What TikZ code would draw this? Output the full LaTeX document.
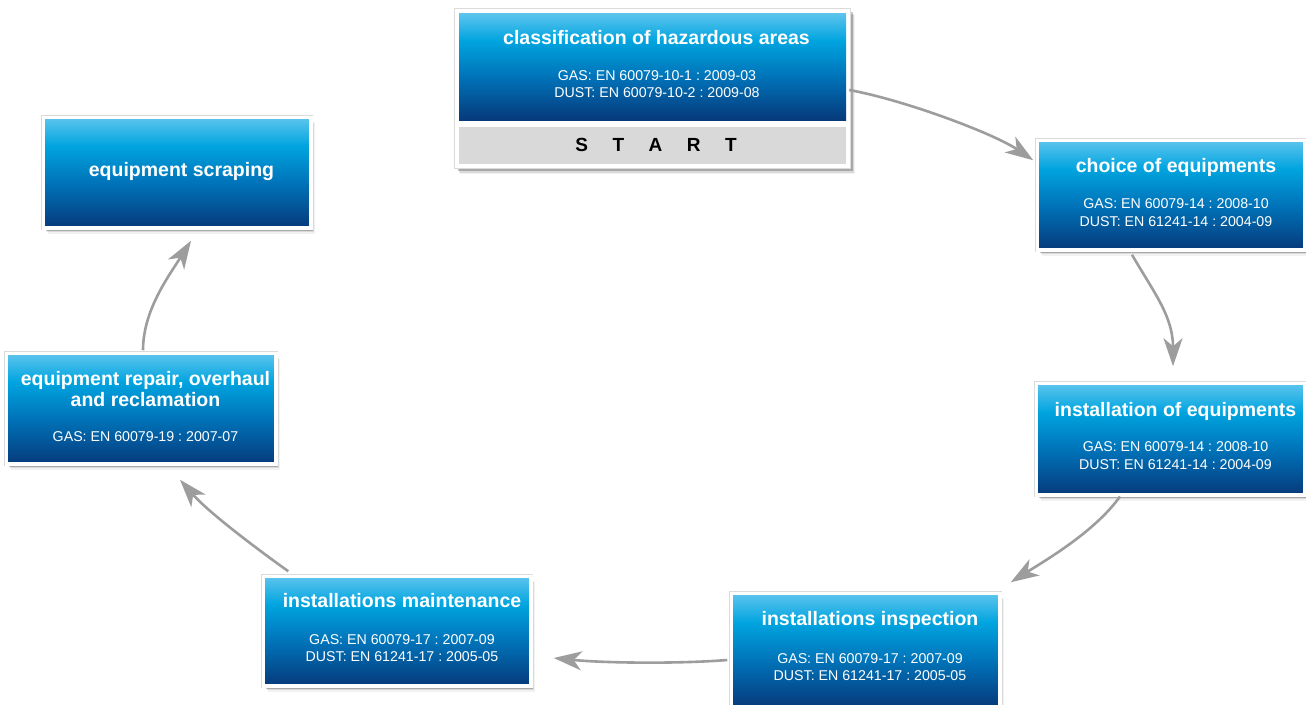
\documentclass[tikz,border=0pt]{standalone}
\usepackage{fontspec}
\setmainfont{Liberation Sans}
\usetikzlibrary{arrows.meta,shadows}
\definecolor{blight}{HTML}{5EC5EE}
\definecolor{bcyan}{HTML}{00A4DF}
\definecolor{bmid}{HTML}{0072B8}
\definecolor{bdark}{HTML}{063A7B}
\definecolor{sgrey}{HTML}{D9D9D9}
\definecolor{agrey}{HTML}{9D9D9D}
\pgfdeclareverticalshading{boxshade}{100bp}{color(0bp)=(bdark); color(25bp)=(bdark); color(45bp)=(bmid); color(62bp)=(bcyan); color(75bp)=(blight); color(100bp)=(blight)}
\frenchspacing
\tikzset{
  softshadow/.style={
    general shadow={fill=black,opacity=.22,shadow xshift=2.5pt,shadow yshift=-3pt},
    general shadow={fill=black,opacity=.10,shadow xshift=3.5pt,shadow yshift=-4.5pt},
    general shadow={fill=black,opacity=.05,shadow xshift=4.5pt,shadow yshift=-6pt}},
  halo/.style={preaction={draw=black!14, line width=#1}},
  bluebox/.style={rectangle, inner sep=0pt, softshadow, halo=5.2pt, shade, shading=boxshade, draw=white, line width=3.5pt},
  plainblue/.style={rectangle, inner sep=0pt, shade, shading=boxshade},
  framebox/.style={rectangle, inner sep=0pt, softshadow, halo=1.6pt, fill=white},
  startbar/.style={rectangle, inner sep=0pt, fill=sgrey},
  txt/.style={text=white, inner sep=0pt, anchor=base},
  ttl/.style={txt, font=\fontsize{19.5}{22}\selectfont\bfseries},
  sub/.style={txt, font=\fontsize{14.2}{17}\selectfont},
  arr/.style={draw=agrey, line width=2.6pt, -{Stealth[length=28pt,width=19pt,inset=8pt]}}
}
\begin{document}
\begin{tikzpicture}[x=1pt,y=-1pt]
\useasboundingbox (0,0) rectangle (1306,704);
\fill[white] (0,0) rectangle (1306,704);

% box 1 with START bar
\node[framebox, minimum width=395pt, minimum height=159pt] (f1) at (652.5,88.5) {};
\node[plainblue, minimum width=387pt, minimum height=107pt] (b1) at (652.5,66.5) {};
\node[startbar, minimum width=387pt, minimum height=37pt] (sb) at (652.5,145.5) {};
\node[inner sep=0pt, anchor=base, font=\fontsize{19}{22}\selectfont\bfseries] (st) at (656,151.5) {\spaceskip=24.5pt\relax S T A R T};
\node[ttl] (t1) at (656.5,44.3) {classification of hazardous areas};
\node[sub] (s1a) at (657,80) {GAS: EN 60079-10-1 : 2009-03};
\node[sub] (s1b) at (657,97) {DUST: EN 60079-10-2 : 2009-08};

% box 2
\node[bluebox, minimum width=267.5pt, minimum height=109.5pt] (b2) at (1171,195) {};
\node[ttl] (t2) at (1176,172.7) {choice of equipments};
\node[sub] (s2a) at (1176,208.5) {GAS: EN 60079-14 : 2008-10};
\node[sub] (s2b) at (1176,226) {DUST: EN 61241-14 : 2004-09};

% box 3
\node[bluebox, minimum width=268.5pt, minimum height=111.5pt] (b3) at (1170.5,439) {};
\node[ttl] (t3) at (1175.5,416.7) {installation of equipments};
\node[sub] (s3a) at (1175.5,451.7) {GAS: EN 60079-14 : 2008-10};
\node[sub] (s3b) at (1175.5,469.3) {DUST: EN 61241-14 : 2004-09};

% box 4
\node[bluebox, minimum width=268.5pt, minimum height=113.5pt] (b4) at (865.5,650) {};
\node[ttl] (t4) at (870,625) {installations inspection};
\node[sub] (s4a) at (870,663) {GAS: EN 60079-17 : 2007-09};
\node[sub] (s4b) at (870,680.5) {DUST: EN 61241-17 : 2005-05};

% box 5
\node[bluebox, minimum width=267.5pt, minimum height=109.5pt] (b5) at (397,631) {};
\node[ttl] (t5) at (402,607.7) {installations maintenance};
\node[sub] (s5a) at (402,644) {GAS: EN 60079-17 : 2007-09};
\node[sub] (s5b) at (402,661.7) {DUST: EN 61241-17 : 2005-05};

% box 6
\node[bluebox, minimum width=269.5pt, minimum height=110.5pt] (b6) at (141,408.5) {};
\node[ttl] (t6a) at (145.5,385) {equipment repair, overhaul};
\node[ttl] (t6b) at (145.5,406.7) {and reclamation};
\node[sub] (s6) at (145.5,441.7) {GAS: EN 60079-19 : 2007-07};

% box 7
\node[bluebox, minimum width=267.5pt, minimum height=110.5pt] (b7) at (177,172.5) {};
\node[ttl] (t7) at (181.5,176.7) {equipment scraping};

% connectors
\draw[arr] ([xshift=3pt,yshift=-23.5pt]b1.east) .. controls +(55,10) and +(-40,-27) .. ([xshift=-2.25pt,yshift=-21.75pt]b2.north west);
\draw[arr] ([xshift=-39pt,yshift=-3.25pt]b2.south) .. controls +(22,38) and +(0,-50) .. ([xshift=2.5pt,yshift=15.25pt]b3.north);
\draw[arr] ([xshift=-50.5pt]b3.south) .. controls +(-25,35) and +(35,-22) .. ([xshift=9.25pt,yshift=9.25pt]b4.north east);
\draw[arr] ([xshift=-2.25pt,yshift=-10pt]b4.west) .. controls +(-50,4) and +(50,5) .. ([xshift=21.25pt,yshift=-27pt]b5.east);
\draw[arr] ([xshift=26.75pt,yshift=3.25pt]b5.north west) .. controls +(-35,-25) and +(28,32) .. ([xshift=39pt,yshift=-14.25pt]b6.south);
\draw[arr] ([xshift=2pt,yshift=1.25pt]b6.north) .. controls +(0,-40) and +(-22,35) .. ([xshift=14pt,yshift=-11.25pt]b7.south);
\end{tikzpicture}
\end{document}
